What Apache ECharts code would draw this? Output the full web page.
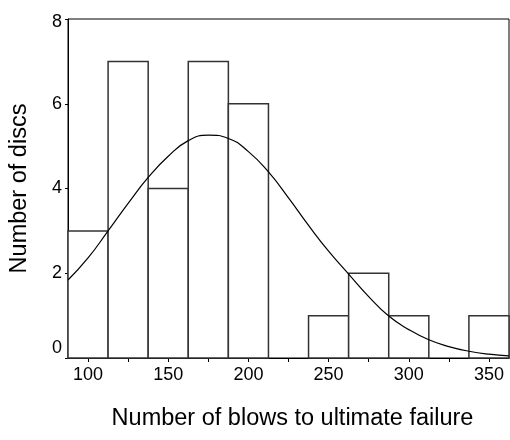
<!DOCTYPE html>
<html>
<head>
<meta charset="utf-8">
<script src="https://cdn.jsdelivr.net/npm/echarts@6/dist/echarts.min.js"></script>
<style>
  html, body { margin: 0; padding: 0; background: #fff; }
  #chart { width: 510px; height: 440px; }
</style>
</head>
<body>
<div id="chart"></div>
<script>
// Histogram bins (blows to ultimate failure) and disc counts per bin
const binEdges = [87.5, 112.5, 137.5, 162.5, 187.5, 212.5, 237.5, 262.5, 287.5, 312.5, 337.5, 362.5];
const counts = [3, 7, 4, 7, 6, 0, 1, 2, 1, 0, 1];

// Fitted normal curve, sampled along the x axis
const curveX = [87.5, 100, 112.5, 125, 137.5, 150, 162.5, 175, 187.5, 200, 212.5, 225,
                237.5, 250, 262.5, 275, 287.5, 300, 312.5, 325, 337.5, 350, 362.5];
const curveY = [1.84, 2.36, 3.0, 3.65, 4.26, 4.76, 5.13, 5.26, 5.18, 4.87, 4.39, 3.78,
                3.13, 2.52, 1.98, 1.45, 0.99, 0.67, 0.43, 0.27, 0.16, 0.09, 0.05];

// Axis ticks
const xLabelValues = [100, 150, 200, 250, 300, 350];
const xTickValues = [100, 125, 150, 175, 200, 225, 250, 275, 300, 325, 350];
const yMin = 0, yMax = 8, yStep = 2;

const FONT = 'Liberation Sans, Arial, sans-serif';

const binData = counts.map((c, i) => [binEdges[i], binEdges[i + 1], c]);
const curveData = curveX.map((x, i) => [x, curveY[i]]);

const chart = echarts.init(document.getElementById('chart'), null, { renderer: 'canvas' });

chart.setOption({
  animation: false,
  backgroundColor: '#fff',
  grid: {
    left: 68, right: 1, top: 19, bottom: 82,
    show: true, borderColor: '#000', borderWidth: 1
  },
  xAxis: {
    type: 'value',
    min: binEdges[0],
    max: binEdges[binEdges.length - 1],
    name: 'Number of blows to ultimate failure',
    nameLocation: 'middle',
    nameGap: 49,
    nameTextStyle: { fontFamily: FONT, fontSize: 23.5, color: '#000', padding: [0, 0, 0, 8] },
    splitLine: { show: false },
    axisLine: { show: true, lineStyle: { color: '#000', width: 1 } },
    axisTick: { show: true, length: 4, inside: false, customValues: xTickValues, lineStyle: { color: '#000' } },
    axisLabel: { customValues: xLabelValues, margin: 8, fontFamily: FONT, fontSize: 18, color: '#000' }
  },
  yAxis: {
    type: 'value',
    min: yMin, max: yMax, interval: yStep,
    name: 'Number of discs',
    nameLocation: 'middle',
    nameGap: 36,
    nameTextStyle: { fontFamily: FONT, fontSize: 23.5, color: '#000' },
    splitLine: { show: false },
    axisLine: { show: true, lineStyle: { color: '#000', width: 1 } },
    axisTick: { show: true, length: 3, lineStyle: { color: '#000' } },
    axisLabel: {
      margin: 6, fontFamily: FONT, fontSize: 18, color: '#000',
      formatter: v => v === yMin ? '{lo|' + v + '}' : (v === yMax ? '{hi|' + v + '}' : String(v)),
      rich: {
        lo: { fontFamily: FONT, fontSize: 18, color: '#000', padding: [0, 0, 20, 0] },
        hi: { fontFamily: FONT, fontSize: 18, color: '#000', padding: [6, 0, 0, 0] }
      }
    }
  },
  series: [
    {
      type: 'custom',
      data: binData,
      encode: { x: [0, 1], y: 2 },
      z: 2,
      renderItem: function (params, api) {
        const v = api.value(2);
        if (!v) return null;
        const p0 = api.coord([api.value(0), v]);
        const p1 = api.coord([api.value(1), 0]);
        return {
          type: 'rect',
          shape: { x: p0[0], y: p0[1], width: p1[0] - p0[0], height: p1[1] - p0[1] },
          style: { fill: '#fff', stroke: '#333', lineWidth: 1.5 }
        };
      }
    },
    {
      type: 'line',
      data: curveData,
      smooth: true,
      showSymbol: false,
      z: 3,
      lineStyle: { color: '#000', width: 1.2 }
    }
  ]
});
</script>
</body>
</html>
